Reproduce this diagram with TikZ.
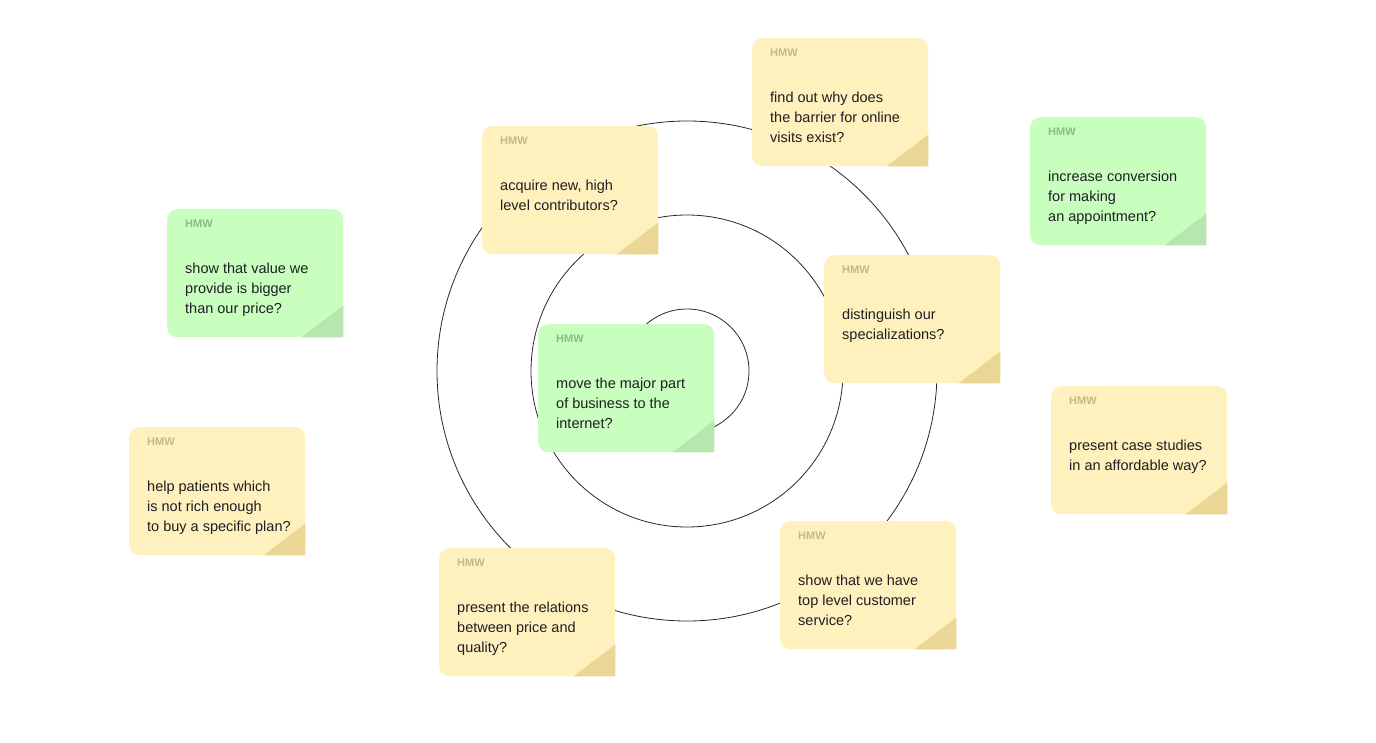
\documentclass[tikz,border=0pt]{standalone}
\usepackage{fontspec}
\setmainfont{Liberation Sans}
\usepackage{xcolor}
\usetikzlibrary{positioning}
\definecolor{NoteY}{RGB}{255,241,190}
\definecolor{FoldY}{RGB}{234,215,150}
\definecolor{TagY}{RGB}{196,184,140}
\definecolor{NoteG}{RGB}{200,255,190}
\definecolor{FoldG}{RGB}{184,230,176}
\definecolor{TagG}{RGB}{140,186,132}
\definecolor{RingGray}{RGB}{40,40,40}
\definecolor{InkDark}{RGB}{30,30,36}

% #1 name, #2 x, #3 y, #4 Y or G, #5 text
\newcommand{\hmwnote}[5]{%
  \node[note, fill=Note#4] (#1) at (#2,#3) {};
  \fill[Note#4] (#1.south east) rectangle ++(-12,-12);
  \fill[Fold#4] (#1.south east) -- ++(-42,0) -- ++(42,-32) -- cycle;
  \node[tag, text=Tag#4] (#1-tag) at ([shift={(18,15)}]#1.north west) {HMW};
  \node[body] (#1-txt) at ([shift={(18,54)}]#1.north west) {#5};
}

\begin{document}
\begin{tikzpicture}[x=1pt, y=-1pt,
      note/.style={rectangle, rounded corners=10pt, minimum width=176pt,
                   minimum height=128pt, inner sep=0pt, anchor=north west},
      tag/.style={font=\fontsize{11}{13}\selectfont\bfseries, inner sep=0pt,
                  anchor=west},
      body/.style={font=\fontsize{14.5}{20}\selectfont, text=InkDark,
                   align=left, inner sep=0pt, anchor=north west},
      ring/.style={draw=RingGray, line width=0.8pt}
    ]
    \useasboundingbox (0,0) rectangle (1376,742);

    %--- Target rings ---
    \draw[ring] (687,371) circle[radius=62];
    \draw[ring] (687,371) circle[radius=156];
    \draw[ring] (687,371) circle[radius=250];

    %--- HMW sticky notes ---
    \hmwnote{barrier}{752}{38}{Y}{find out why does\\the barrier for online\\visits exist?}
    \hmwnote{contrib}{482}{126}{Y}{acquire new, high\\level contributors?}
    \hmwnote{convert}{1030}{117}{G}{increase conversion\\for making\\an appointment?}
    \hmwnote{value}{167}{209}{G}{show that value we\\provide is bigger\\than our price?}
    \hmwnote{special}{824}{255}{Y}{distinguish our\\specializations?}
    \hmwnote{online}{538}{324}{G}{move the major part\\of business to the\\internet?}
    \hmwnote{cases}{1051}{386}{Y}{present case studies\\in an affordable way?}
    \hmwnote{patients}{129}{427}{Y}{help patients which\\is not rich enough\\to buy a specific plan?}
    \hmwnote{relation}{439}{548}{Y}{present the relations\\between price and\\quality?}
    \hmwnote{service}{780}{521}{Y}{show that we have\\top level customer\\service?}
  \end{tikzpicture}
\end{document}
